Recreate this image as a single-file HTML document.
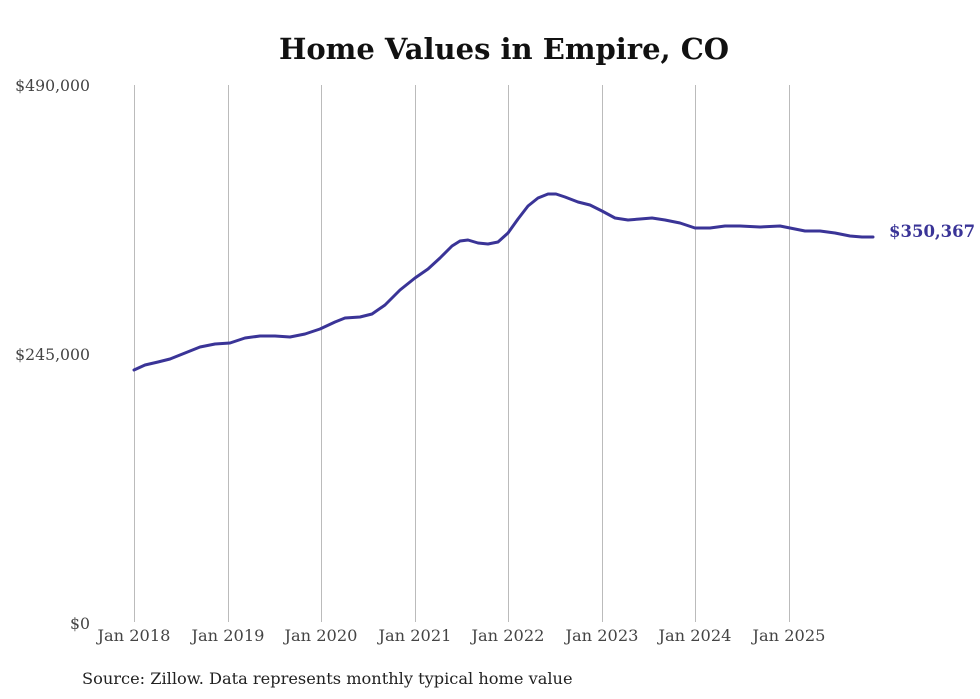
<!DOCTYPE html>
<html><head><meta charset="utf-8"><style>
html,body{margin:0;padding:0;background:#fff;width:980px;height:699px;overflow:hidden}
svg{display:block}
text{font-family:"DejaVu Serif","Liberation Serif",serif}
</style></head><body>
<svg width="980" height="699" viewBox="0 0 980 699">
<rect width="980" height="699" fill="#fff"/>
<text x="504" y="59" text-anchor="middle" font-size="29" font-weight="bold" fill="#111">Home Values in Empire, CO</text>
<g stroke="#bbb" stroke-width="1">
<line x1="134.5" y1="85" x2="134.5" y2="622"/>
<line x1="228.5" y1="85" x2="228.5" y2="622"/>
<line x1="321.5" y1="85" x2="321.5" y2="622"/>
<line x1="415.5" y1="85" x2="415.5" y2="622"/>
<line x1="508.5" y1="85" x2="508.5" y2="622"/>
<line x1="602.5" y1="85" x2="602.5" y2="622"/>
<line x1="695.5" y1="85" x2="695.5" y2="622"/>
<line x1="789.5" y1="85" x2="789.5" y2="622"/>
</g>
<g font-size="15.7" fill="#444" text-anchor="end">
<text x="90" y="91">$490,000</text>
<text x="90" y="360">$245,000</text>
<text x="90" y="629">$0</text>
</g>
<g font-size="16.2" fill="#444" text-anchor="middle">
<text x="134" y="641">Jan 2018</text>
<text x="228" y="641">Jan 2019</text>
<text x="321" y="641">Jan 2020</text>
<text x="415" y="641">Jan 2021</text>
<text x="508" y="641">Jan 2022</text>
<text x="602" y="641">Jan 2023</text>
<text x="695" y="641">Jan 2024</text>
<text x="789" y="641">Jan 2025</text>
</g>
<polyline fill="none" stroke="#3a3497" stroke-width="3" stroke-linejoin="round" stroke-linecap="round"
points="134,370 145,365 158,362 170,359 185,353 200,347 215,344 230,343 245,338 260,336 275,336 290,337 305,334 320,329 335,322 345,318 360,317 372,314 385,305 400,290 415,278 428,269 440,258 452,246 460,241 468,240 478,243 488,244 498,242 508,233 518,219 528,206 538,198 548,194 556,194 565,197 578,202 590,205 602,211 615,218 628,220 640,219 652,218 665,220 680,223 695,228 710,228 725,226 740,226 760,227 780,226 795,229 805,231 820,231 835,233 850,236 862,237 873,237"/>
<text x="889" y="237" font-size="16.5" font-weight="bold" fill="#3a3497">$350,367</text>
<text x="82" y="684" font-size="16.2" fill="#222">Source: Zillow. Data represents monthly typical home value</text>
</svg>
</body></html>
